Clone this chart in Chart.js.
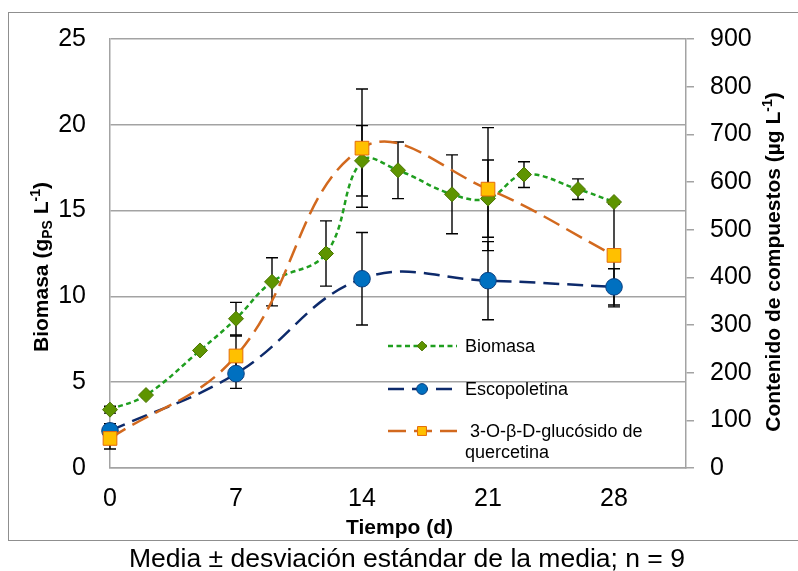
<!DOCTYPE html>
<html lang="es">
<head>
<meta charset="utf-8">
<title>Biomasa y contenido de compuestos</title>
<script src="https://cdn.jsdelivr.net/npm/chart.js@4"></script>
<style>
  body { margin: 0; background: #fff; }
  #wrap { position: relative; width: 798px; height: 571px; font-family: "Liberation Sans", Arial, sans-serif; }
  #marco { position: absolute; left: 8px; top: 12px; width: 790px; height: 529px; border: 1px solid #8f8f8f; border-right: none; box-sizing: border-box; }
  #grafico { position: absolute; left: 0; top: 0; }
  #pie { position: absolute; top: 543px; left: 16px; width: 782px; text-align: center; font-size: 26.5px; color: #000; white-space: nowrap; }
</style>
</head>
<body>
<div id="wrap">
  <div id="marco"></div>
  <canvas id="grafico" width="798" height="545"></canvas>
  <div id="pie">Media ± desviación estándar de la media; n = 9</div>
</div>
<script>
// dias de muestreo y valores medios
const diasBiomasa = [0, 2, 5, 7, 9, 12, 14, 16, 19, 21, 23, 26, 28];
const biomasa = [3.4, 4.25, 6.85, 8.7, 10.85, 12.5, 17.9, 17.35, 15.95, 15.7, 17.1, 16.25, 15.5];
const biomasaDE = [0.2, 0, 0, 0.95, 1.4, 1.9, 2.05, 1.65, 2.3, 2.25, 0.75, 0.6, 0];

const diasCompuestos = [0, 7, 14, 21, 28];
const escopoletina = [78, 198, 397, 393, 380];
const escopoletinaDE = [15, 31, 97, 82, 38];
const quercetina = [62, 235, 671, 585, 446];
const quercetinaDE = [22, 42, 124, 129, 108];

const ticksDias = [0, 7, 14, 21, 28];
const ticksBiomasa = [0, 5, 10, 15, 20, 25];
const ticksCompuestos = [0, 100, 200, 300, 400, 500, 600, 700, 800, 900];

const FUENTE = '"Liberation Sans", Arial, sans-serif';
const GRIS = '#a3a3a3';

function puntos(xs, ys) {
  return xs.map((x, i) => ({ x: x, y: ys[i] }));
}

// barras de desviacion estandar
const barrasError = {
  id: 'barrasError',
  beforeDatasetsDraw(chart) {
    const ctx = chart.ctx;
    ctx.save();
    ctx.strokeStyle = '#000';
    ctx.lineWidth = 1.4;
    chart.data.datasets.forEach((ds, i) => {
      const meta = chart.getDatasetMeta(i);
      const escala = chart.scales[ds.yAxisID];
      ds.data.forEach((p, j) => {
        const e = ds.errores[j];
        if (!e) return;
        const x = meta.data[j].x;
        const y1 = escala.getPixelForValue(p.y + e);
        const y2 = escala.getPixelForValue(p.y - e);
        ctx.beginPath();
        ctx.moveTo(x, y1); ctx.lineTo(x, y2);
        ctx.moveTo(x - 6, y1); ctx.lineTo(x + 6, y1);
        ctx.moveTo(x - 6, y2); ctx.lineTo(x + 6, y2);
        ctx.stroke();
      });
    });
    ctx.restore();
  }
};

// leyenda dentro del area de trazado
const leyenda = {
  id: 'leyenda',
  afterDatasetsDraw(chart) {
    const ctx = chart.ctx;
    const filas = [346, 389, 431];
    ctx.save();
    chart.data.datasets.forEach((ds, i) => {
      const y = filas[i];
      ctx.save();
      ctx.strokeStyle = ds.borderColor;
      ctx.lineWidth = ds.borderWidth;
      ctx.setLineDash(ds.borderDash);
      ctx.beginPath();
      ctx.moveTo(388, y);
      ctx.lineTo(457, y);
      ctx.stroke();
      ctx.restore();

      ctx.fillStyle = ds.pointBackgroundColor;
      ctx.strokeStyle = ds.pointBorderColor;
      ctx.lineWidth = 1;
      Chart.helpers.drawPoint(ctx, { pointStyle: ds.pointStyle, radius: ds.pointRadius * 0.65, borderWidth: 1, rotation: 0 }, 422, y);

      // texto con salto de linea si no cabe (se conserva el espacio inicial)
      ctx.font = '18px ' + FUENTE;
      ctx.fillStyle = '#000';
      ctx.textBaseline = 'middle';
      const sangria = ds.label.startsWith(' ') ? ' ' : '';
      const palabras = ds.label.trim().split(' ');
      const lineas = [];
      let actual = sangria;
      palabras.forEach(w => {
        const prueba = actual.trim() ? actual + ' ' + w : actual + w;
        if (actual.trim() && ctx.measureText(prueba).width > 190) {
          lineas.push(actual);
          actual = w;
        } else {
          actual = prueba;
        }
      });
      lineas.push(actual);
      lineas.forEach((t, k) => {
        ctx.fillText(t, 465, y + 1 + k * 21);
      });
    });
    ctx.restore();
  }
};

// titulos de ejes con subindices y superindices
function textoRico(ctx, partes, cx, cy, rot) {
  const base = 21, peq = 14;
  const fuente = s => 'bold ' + s + 'px ' + FUENTE;
  let ancho = 0;
  partes.forEach(([t, tipo]) => {
    ctx.font = fuente(tipo ? peq : base);
    ancho += ctx.measureText(t).width;
  });
  ctx.save();
  ctx.translate(cx, cy);
  ctx.rotate(rot);
  ctx.fillStyle = '#000';
  ctx.textBaseline = 'alphabetic';
  let x = -ancho / 2;
  partes.forEach(([t, tipo]) => {
    ctx.font = fuente(tipo ? peq : base);
    const dy = tipo === 'sub' ? 4 : tipo === 'sup' ? -8 : 0;
    ctx.fillText(t, x, 7.5 + dy);
    x += ctx.measureText(t).width;
  });
  ctx.restore();
}

const titulos = {
  id: 'titulos',
  afterDraw(chart) {
    const ctx = chart.ctx;
    textoRico(ctx, [['Biomasa (g', ''], ['PS', 'sub'], [' L', ''], ['-1', 'sup'], [')', '']], 40.5, 267, -Math.PI / 2);
    textoRico(ctx, [['Contenido de compuestos (µg L', ''], ['-1', 'sup'], [')', '']], 772, 262, -Math.PI / 2);
    textoRico(ctx, [['Tiempo (d)', '']], 399.5, 526, 0);
  }
};

new Chart(document.getElementById('grafico'), {
  type: 'line',
  data: {
    datasets: [
      {
        label: 'Biomasa',
        data: puntos(diasBiomasa, biomasa),
        errores: biomasaDE,
        yAxisID: 'yBio',
        borderColor: '#1f9e1f',
        borderWidth: 2.5,
        borderDash: [5, 3.5],
        pointStyle: 'rectRot',
        pointRadius: 7.5,
        pointBackgroundColor: '#5e9400',
        pointBorderColor: '#4a7400',
        pointBorderWidth: 1,
        tension: 0.4,
        clip: false,
        order: 2
      },
      {
        label: 'Escopoletina',
        data: puntos(diasCompuestos, escopoletina),
        errores: escopoletinaDE,
        yAxisID: 'yComp',
        borderColor: '#0d2a6b',
        borderWidth: 2.5,
        borderDash: [16, 8],
        pointStyle: 'circle',
        pointRadius: 8.3,
        pointBackgroundColor: '#0070c0',
        pointBorderColor: '#0b3f80',
        pointBorderWidth: 1,
        tension: 0.4,
        clip: false,
        order: 1
      },
      {
        label: ' 3-O-β-D-glucósido de quercetina',
        data: puntos(diasCompuestos, quercetina),
        errores: quercetinaDE,
        yAxisID: 'yComp',
        borderColor: '#d2691e',
        borderWidth: 2.5,
        borderDash: [18, 8],
        pointStyle: 'rect',
        pointRadius: 9.7,
        pointBackgroundColor: '#ffc000',
        pointBorderColor: '#e46c0a',
        pointBorderWidth: 1,
        tension: 0.4,
        clip: false,
        order: 0
      }
    ]
  },
  options: {
    responsive: false,
    animation: false,
    events: [],
    layout: { padding: { top: 39, left: 0, right: 0, bottom: 0 } },
    plugins: { legend: { display: false }, tooltip: { enabled: false } },
    scales: {
      x: {
        type: 'linear',
        min: 0,
        max: 32,
        afterBuildTicks: s => { s.ticks = ticksDias.map(v => ({ value: v })); },
        afterFit: s => { s.height = 77; },
        grid: { drawOnChartArea: false, drawTicks: false },
        border: { color: GRIS, width: 1.5 },
        ticks: { padding: 16, color: '#000', font: { family: FUENTE, size: 25 } }
      },
      yBio: {
        type: 'linear',
        position: 'left',
        min: 0,
        max: 25,
        afterBuildTicks: s => { s.ticks = ticksBiomasa.map(v => ({ value: v })); },
        afterFit: s => { s.width = 110; },
        grid: { color: GRIS, lineWidth: 1.5, drawTicks: false },
        border: { color: GRIS, width: 1.5 },
        ticks: { padding: 24, color: '#000', font: { family: FUENTE, size: 25 } }
      },
      yComp: {
        type: 'linear',
        position: 'right',
        min: 0,
        max: 900,
        afterBuildTicks: s => { s.ticks = ticksCompuestos.map(v => ({ value: v })); },
        afterFit: s => { s.width = 112; },
        grid: { drawOnChartArea: false, drawTicks: true, tickLength: 8, color: GRIS, lineWidth: 1.5 },
        border: { color: GRIS, width: 1.5 },
        ticks: { padding: 16, color: '#000', font: { family: FUENTE, size: 25 } }
      }
    }
  },
  plugins: [barrasError, leyenda, titulos]
});
</script>
</body>
</html>
